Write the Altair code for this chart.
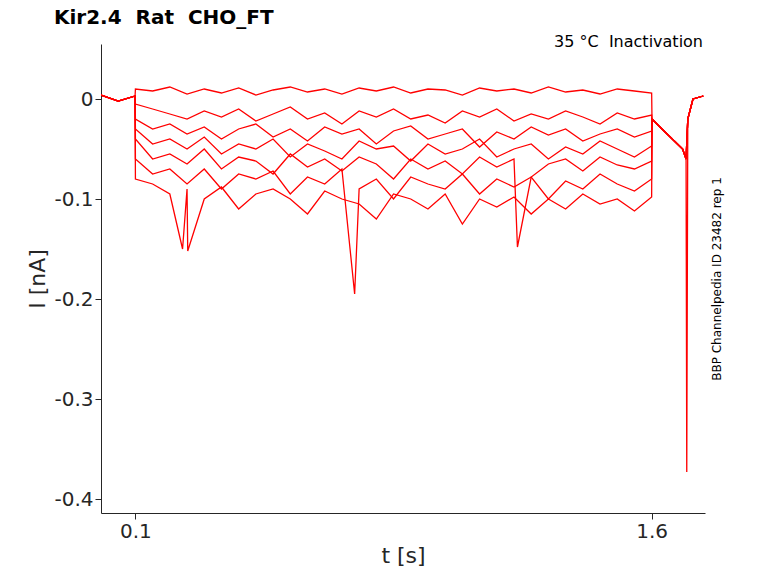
import altair as alt
import pandas as pd

pre_t = [0.0, 0.05, 0.099]
main_t = [round(0.1 + 0.05 * i, 3) for i in range(31)]
post_t = [1.601, 1.63, 1.66, 1.69, 1.70, 1.705, 1.72, 1.75]

pre = [0.004, -0.002, 0.003]
traces = {
    "A": [0.01,0.008,0.012,0.005,0.01,0.006,0.011,0.004,0.009,0.012,0.007,0.01,0.005,0.011,0.008,0.012,0.006,0.01,0.009,0.004,0.011,0.008,0.01,0.006,0.012,0.007,0.009,0.005,0.01,0.008,0.006],
    "B": [-0.005,-0.01,-0.015,-0.02,-0.012,-0.018,-0.01,-0.022,-0.015,-0.008,-0.02,-0.014,-0.025,-0.012,-0.018,-0.01,-0.02,-0.016,-0.024,-0.012,-0.018,-0.01,-0.022,-0.015,-0.02,-0.012,-0.018,-0.025,-0.014,-0.02,-0.016],
    "C": [-0.02,-0.03,-0.025,-0.035,-0.028,-0.04,-0.03,-0.025,-0.038,-0.03,-0.042,-0.028,-0.035,-0.03,-0.045,-0.032,-0.027,-0.04,-0.035,-0.03,-0.048,-0.033,-0.04,-0.028,-0.036,-0.03,-0.042,-0.035,-0.03,-0.038,-0.032],
    "D": [-0.03,-0.045,-0.04,-0.05,-0.038,-0.055,-0.045,-0.05,-0.04,-0.058,-0.045,-0.052,-0.06,-0.042,-0.05,-0.047,-0.062,-0.045,-0.055,-0.05,-0.04,-0.058,-0.05,-0.045,-0.06,-0.048,-0.055,-0.042,-0.05,-0.058,-0.047],
    "E": [-0.04,-0.06,-0.055,-0.065,-0.05,-0.07,-0.058,-0.062,-0.075,-0.055,-0.068,-0.06,-0.072,-0.058,-0.065,-0.08,-0.06,-0.07,-0.062,-0.075,-0.058,-0.068,-0.06,-0.078,-0.065,-0.06,-0.072,-0.058,-0.066,-0.07,-0.062],
    "F": [-0.06,-0.075,-0.07,-0.085,-0.07,-0.09,-0.075,-0.08,-0.072,-0.095,-0.078,-0.085,-0.07,-0.09,-0.08,-0.1,-0.078,-0.085,-0.09,-0.075,-0.095,-0.08,-0.088,-0.078,-0.1,-0.082,-0.09,-0.075,-0.085,-0.092,-0.08],
    "G": [-0.08,-0.085,-0.095,-0.09,-0.1,-0.088,-0.11,-0.095,-0.09,-0.1,-0.115,-0.092,-0.1,-0.105,-0.12,-0.095,-0.1,-0.11,-0.095,-0.125,-0.1,-0.108,-0.098,-0.115,-0.1,-0.11,-0.095,-0.105,-0.1,-0.112,-0.098],
}
post = [-0.02, -0.03, -0.04, -0.05, -0.06, -0.02, 0.0, 0.003]

spike_trace = ["G", "G", "F", "E", "G"]
spike_t = [0.237, 0.252, 0.737, 1.21, 1.702]
spike_v = [-0.15, -0.152, -0.195, -0.148, -0.373]

rows = []
for name, vals in traces.items():
    for t, v in zip(pre_t, pre):
        rows.append((name, t, v))
    for t, v in zip(main_t, vals):
        rows.append((name, t, v))
    for t, v in zip(post_t, post):
        rows.append((name, t, v))
for n, t, v in zip(spike_trace, spike_t, spike_v):
    rows.append((n, t, v))
df = pd.DataFrame(rows, columns=["trace", "t", "I"]).sort_values(["trace", "t"])

lines = alt.Chart(df).mark_line(color="#ff0000", strokeWidth=1.3, clip=True).encode(
    x=alt.X("t:Q", scale=alt.Scale(domain=[0, 1.755], nice=False, zero=False),
            axis=alt.Axis(values=[0.1, 1.6], title="t [s]", format=".1f", grid=False)),
    y=alt.Y("I:Q", scale=alt.Scale(domain=[-0.414, 0.055], nice=False, zero=False),
            axis=alt.Axis(values=[0, -0.1, -0.2, -0.3, -0.4], title="I [nA]", grid=False,
                          labelExpr="datum.value == 0 ? '0' : replace(format(datum.value, '.1f'), '\u2212', '-')")),
    detail="trace:N",
)

t1 = alt.Chart(pd.DataFrame({"s": ["35 °C\u00a0\u00a0Inactivation"]})).mark_text(
    align="right", baseline="middle", fontSize=16, font="DejaVu Sans", color="black"
).encode(x=alt.value(602), y=alt.value(-2), text="s:N")

t2 = alt.Chart(pd.DataFrame({"s": ["BBP Channelpedia ID 23482 rep 1"]})).mark_text(
    align="center", baseline="middle", fontSize=12, angle=270, font="DejaVu Sans", color="black"
).encode(x=alt.value(616), y=alt.value(235), text="s:N")

chart = (lines + t1 + t2).properties(
    width=604, height=469,
    padding={"left": 18, "top": 0, "right": 5, "bottom": 5},
    title=alt.TitleParams("Kir2.4\u00a0\u00a0Rat\u00a0\u00a0CHO_FT", anchor="start", dx=27, fontSize=20,
                          font="DejaVu Sans", fontWeight="bold", offset=6),
).configure_view(stroke=None).configure_axis(
    labelFont="DejaVu Sans", titleFont="DejaVu Sans", labelFontSize=20, titleFontSize=22,
    titleFontWeight="normal", labelColor="#262626", titleColor="#262626",
    domainColor="#262626", tickColor="#262626", tickSize=6,
)

chart.save("out.html", embed_options={"renderer": "svg", "actions": False})
